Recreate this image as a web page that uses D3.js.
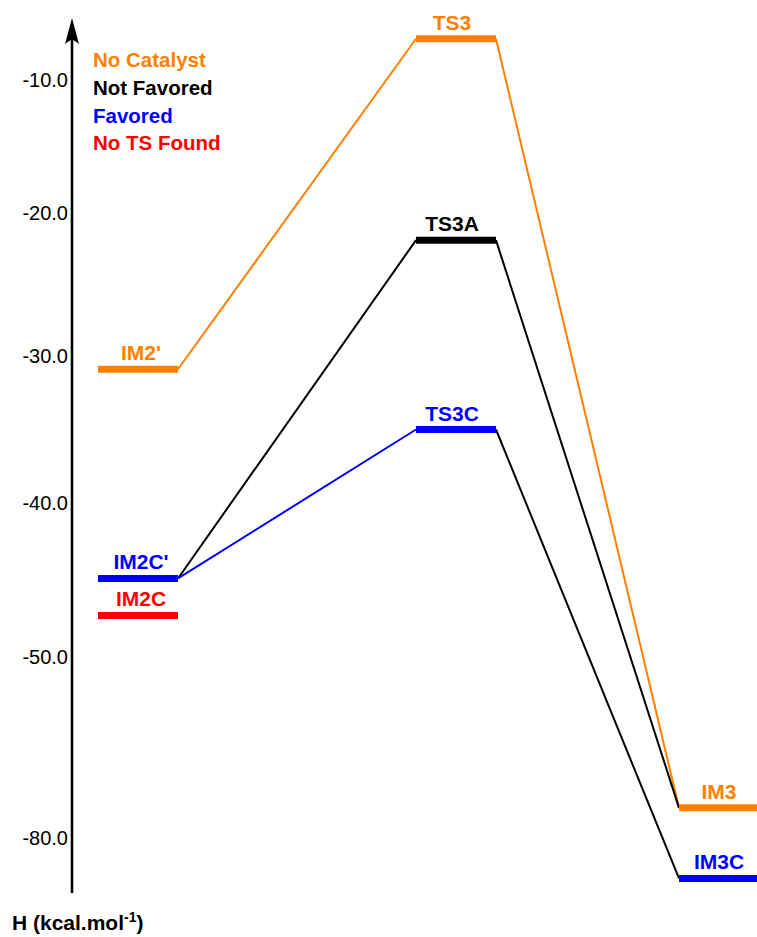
<!DOCTYPE html>
<html lang="en">
<head>
    <meta charset="UTF-8">
    <title>Energy Profile</title>
    <script src="https://d3js.org/d3.v7.min.js"></script>
    <style>
        body { margin: 0; background: #fff; }
        svg { display: block; font-family: "Liberation Sans", Arial, sans-serif; }
    </style>
</head>
<body>
    <svg id="chart" width="757" height="937"></svg>

    <script>
        // Data
        const stages = ["IM2", "TS3", "IM3"];
        const levelNames = ["IM2'", "IM2C'", "IM2C", "TS3", "TS3A", "TS3C", "IM3", "IM3C"];
        const levelStage = ["IM2", "IM2", "IM2", "TS3", "TS3", "TS3", "IM3", "IM3"];
        const levelEnergy = [-30.9, -44.9, -47.3, -6.9, -21.9, -35.0, -75.0, -86.7];
        const levelGroup = ["No Catalyst", "Favored", "No TS Found", "No Catalyst", "Not Favored", "Favored", "No Catalyst", "Favored"];
        const linkFrom = ["IM2'", "TS3", "IM2C'", "TS3A", "TS3C", "IM2C'"];
        const linkTo = ["TS3", "IM3", "TS3A", "IM3", "IM3C", "TS3C"];
        const linkGroup = ["No Catalyst", "No Catalyst", "Not Favored", "Not Favored", "Not Favored", "Favored"];
        const legendLabels = ["No Catalyst", "Not Favored", "Favored", "No TS Found"];
        const legendColors = ["#ff8000", "#000000", "#0000ff", "#ff0000"];
        const yTicks = [-10, -20, -30, -40, -50, -80];

        const svg = d3.select("#chart");
        const axisX = 72;
        const barW = 80;

        // broken axis: each labelled value has its own spot
        const y = d3.scaleLinear()
            .domain(yTicks)
            .range([80, 213, 356, 503, 657, 838]);

        const x = d3.scaleOrdinal()
            .domain(stages)
            .range([98, 416, 679]);

        const color = d3.scaleOrdinal()
            .domain(legendLabels)
            .range(legendColors);

        const levels = levelNames.map((n, i) => ({
            name: n, stage: levelStage[i], energy: levelEnergy[i], group: levelGroup[i]
        }));
        const byName = new Map(levels.map(d => [d.name, d]));
        const links = linkFrom.map((f, i) => ({
            from: byName.get(f), to: byName.get(linkTo[i]), group: linkGroup[i]
        }));

        // y axis labels (no tick marks), plain hyphen for the minus sign
        const yAxis = svg.append("g")
            .attr("transform", `translate(${axisX},0)`)
            .call(d3.axisLeft(y).tickValues(yTicks).tickSize(0).tickPadding(4)
                .tickFormat(d => d.toFixed(1)));
        yAxis.select(".domain").remove();
        yAxis.selectAll("text")
            .style("font-size", "20px")
            .style("font-family", "'Liberation Sans', Arial, sans-serif")
            .attr("fill", "#000");

        // axis line with arrow
        svg.append("line")
            .attr("x1", axisX).attr("x2", axisX)
            .attr("y1", 36).attr("y2", 893)
            .attr("stroke", "#000")
            .attr("stroke-width", 2.6);
        svg.append("path")
            .attr("d", `M${axisX},18 L${axisX + 7},44 L${axisX},39 L${axisX - 7},44 Z`)
            .attr("fill", "#000");

        // axis title
        const title = svg.append("text")
            .attr("x", 12)
            .attr("y", 930)
            .style("font-size", "21px")
            .style("font-weight", "bold")
            .text("H (kcal.mol");
        title.append("tspan")
            .attr("dy", -8)
            .style("font-size", "14px")
            .text("-1");
        title.append("tspan")
            .attr("dy", 8)
            .text(")");

        // connectors
        svg.append("g")
            .selectAll("line")
            .data(links)
            .join("line")
            .attr("x1", d => x(d.from.stage) + barW)
            .attr("y1", d => y(d.from.energy))
            .attr("x2", d => x(d.to.stage))
            .attr("y2", d => y(d.to.energy))
            .attr("stroke", d => color(d.group))
            .attr("stroke-width", 2);

        // levels
        svg.append("g")
            .selectAll("line")
            .data(levels)
            .join("line")
            .attr("x1", d => x(d.stage))
            .attr("x2", d => x(d.stage) + barW)
            .attr("y1", d => y(d.energy))
            .attr("y2", d => y(d.energy))
            .attr("stroke", d => color(d.group))
            .attr("stroke-width", 7);

        // level labels sit a little off the bar centre, as in the original
        const labelShift = { IM2: 3, TS3: -4, IM3: 0 };
        svg.append("g")
            .selectAll("text")
            .data(levels)
            .join("text")
            .attr("x", d => x(d.stage) + barW / 2 + labelShift[d.stage])
            .attr("y", d => y(d.energy) - 9)
            .attr("text-anchor", "middle")
            .attr("fill", d => color(d.group))
            .style("font-size", "21px")
            .style("font-weight", "bold")
            .text(d => d.name);

        // legend
        svg.append("g")
            .selectAll("text")
            .data(legendLabels)
            .join("text")
            .attr("x", 93)
            .attr("y", (d, i) => 67 + i * 27.8)
            .attr("fill", color)
            .style("font-size", "20.5px")
            .style("font-weight", "bold")
            .text(d => d);
    </script>
</body>
</html>
